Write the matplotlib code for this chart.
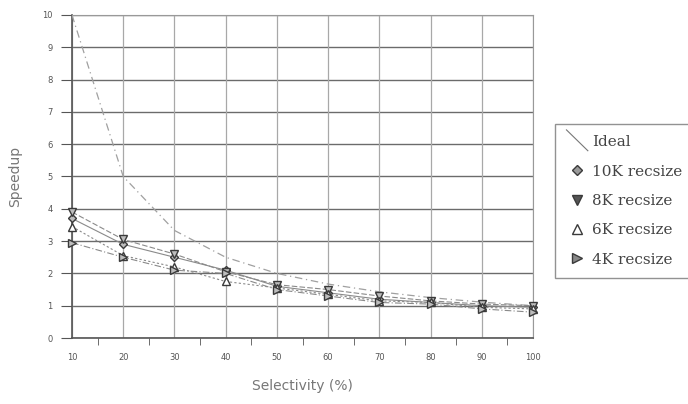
import matplotlib
matplotlib.use("Agg")
import matplotlib.pyplot as plt
from matplotlib.lines import Line2D
from matplotlib.legend_handler import HandlerBase

selectivity = [10, 20, 30, 40, 50, 60, 70, 80, 90, 100]
ideal = [10.0, 5.0, 3.33, 2.5, 2.0, 1.67, 1.43, 1.25, 1.11, 1.0]
rec10k = [3.7, 2.9, 2.5, 2.1, 1.6, 1.4, 1.2, 1.1, 1.0, 0.95]
rec8k = [3.9, 3.05, 2.6, 2.05, 1.65, 1.5, 1.3, 1.15, 1.05, 1.0]
rec6k = [3.45, 2.55, 2.2, 1.75, 1.55, 1.35, 1.15, 1.1, 0.95, 0.9]
rec4k = [2.95, 2.5, 2.1, 2.0, 1.5, 1.3, 1.1, 1.05, 0.9, 0.8]
labels = ["Ideal", "10K recsize", "8K recsize", "6K recsize", "4K recsize"]
yticks = list(range(0, 11))

fig = plt.figure(figsize=(6.88, 4.04), dpi=100)
ax = fig.add_axes([72/688, 1 - 338/404, (533-72)/688, (338-15)/404])

pos = list(range(len(selectivity)))
ax.set_xlim(pos[0], pos[-1])
ax.set_ylim(0, 10)

# grid
for y in yticks:
    ax.axhline(y, color="#6b6b6b", lw=1.0, zorder=1)
for p in pos:
    ax.axvline(p, color="#a8a8a8", lw=0.9, zorder=1)

ax.set_yticks(yticks)
ax.set_yticklabels([str(v) for v in yticks], fontsize=6, color="#555555")
ax.set_xticks(pos)
ax.set_xticklabels([str(v) for v in selectivity], fontsize=6, color="#555555")
ax.set_xticks([p + 0.5 for p in pos[:-1]], minor=True)
ax.tick_params(axis="x", which="major", length=0, pad=11)
ax.tick_params(axis="x", which="minor", length=5, color="#555555", direction="out")
ax.tick_params(axis="y", length=8, color="#555555", direction="out", pad=6)
for s in ["top", "right"]:
    ax.spines[s].set_color("#999999")
    ax.spines[s].set_linewidth(0.8)
for s in ["left", "bottom"]:
    ax.spines[s].set_color("#555555")
    ax.spines[s].set_linewidth(1.2)

ax.plot(pos, ideal, color="#a0a0a0", lw=0.9, ls=(0, (6, 3, 1, 3)), zorder=3)
mk = dict(ms=6, mec="#3a3a3a", mfc="#bdbdbd", mew=1.0, clip_on=False)
ax.plot(pos, rec10k, color="#8a8a8a", lw=0.8, ls="-", marker="D", zorder=4, **dict(mk, ms=4.5))
ax.plot(pos, rec8k, color="#8a8a8a", lw=0.8, ls=(0, (5, 2)), marker="v", zorder=4, **mk)
ax.plot(pos, rec6k, color="#8a8a8a", lw=0.8, ls=(0, (2, 2)), marker="^", zorder=4, **dict(mk, mfc="#ffffff"))
ax.plot(pos, rec4k, color="#8a8a8a", lw=0.8, ls=(0, (6, 2, 1, 2)), marker=">", zorder=4, **mk)

ax.set_xlabel("Selectivity (%)", fontsize=10, color="#777777", labelpad=12)
ax.set_ylabel("Speedup", fontsize=10, color="#777777", labelpad=14)


class DiagHandler(HandlerBase):
    def create_artists(self, legend, orig_handle, xdescent, ydescent, width, height, fontsize, trans):
        l = Line2D([xdescent, xdescent + width],
                   [height*1.55, -height*0.4], color="#777777", lw=0.8, transform=trans)
        return [l]


handles = [
    Line2D([], [], color="#777777"),
    Line2D([], [], ls="none", marker="D", ms=5, mec="#3a3a3a", mfc="#9a9a9a"),
    Line2D([], [], ls="none", marker="v", ms=6.5, mec="#3a3a3a", mfc="#555555"),
    Line2D([], [], ls="none", marker="^", ms=6.5, mec="#3a3a3a", mfc="#ffffff"),
    Line2D([], [], ls="none", marker=">", ms=6.5, mec="#3a3a3a", mfc="#888888"),
]
leg = fig.legend(handles, labels, loc="upper left",
                 bbox_to_anchor=(555/688, 1 - 124/404),
                 prop={"family": "DejaVu Serif", "size": 11},
                 handlelength=1.4, handletextpad=0.3, labelspacing=1.0,
                 borderpad=0.75, borderaxespad=0, frameon=True, fancybox=False, shadow=False,
                 handler_map={handles[0]: DiagHandler()})
for t in leg.get_texts():
    t.set_color("#444444")
fr = leg.get_frame()
fr.set_edgecolor("#777777")
fr.set_linewidth(1.0)

fig.savefig("out.png", dpi=100)
